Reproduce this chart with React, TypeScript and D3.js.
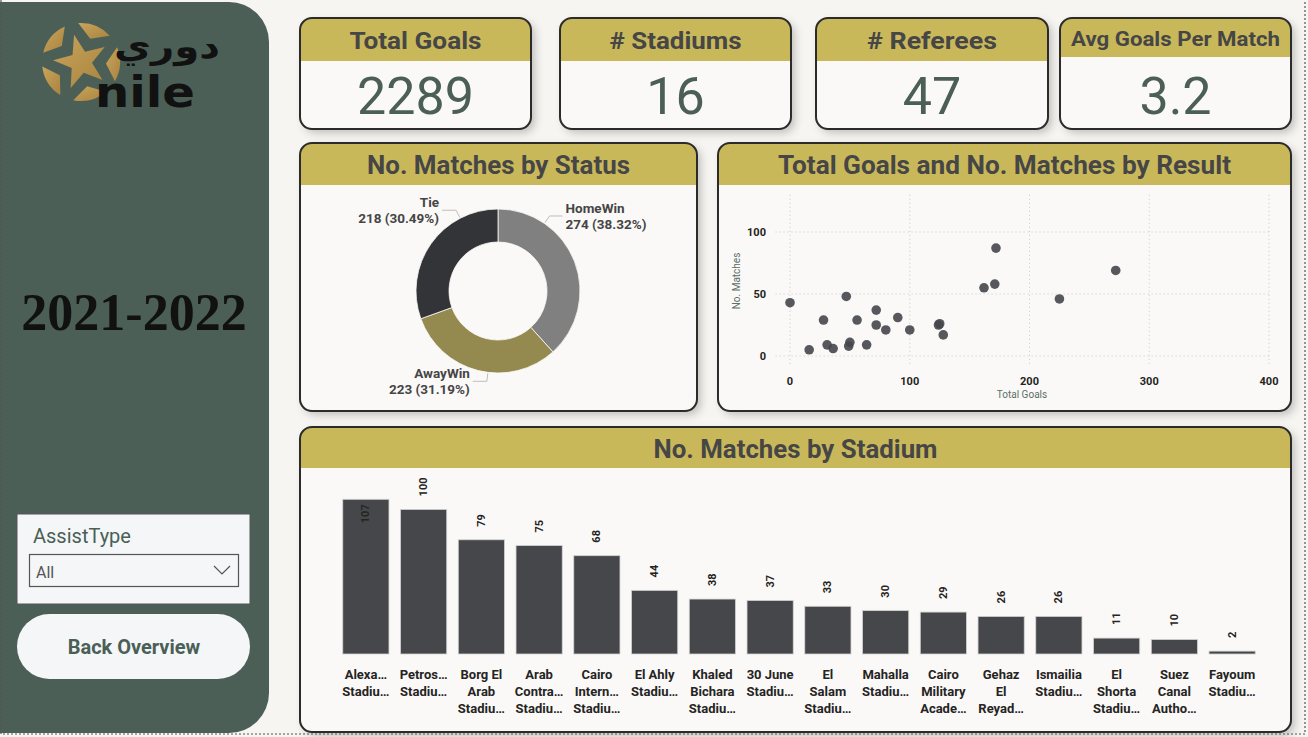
import React from 'react';
import * as d3 from 'd3';

// ─── Data ──────────────────────────────────────────────────

const kpiTitles = ['Total Goals', '# Stadiums', '# Referees', 'Avg Goals Per Match'];
const kpiValues = ['2289', '16', '47', '3.2'];

const statusNames = ['HomeWin', 'AwayWin', 'Tie'];
const statusCounts = [274, 223, 218];
const statusColors = ['#808080', '#948a50', '#333438'];

// one point per result (score line)
const resultGoals = [0, 16, 28, 31, 36, 47, 49, 50, 56, 64, 72, 72, 80, 90, 100, 124, 125, 128, 162, 171, 172, 225, 272];
const resultMatches = [43, 5, 29, 9, 6, 48, 8, 11, 29, 9, 37, 25, 21, 31, 21, 25, 26, 17, 55, 58, 87, 46, 69];
const goalTicks = [0, 100, 200, 300, 400];
const matchTicks = [0, 50, 100];

const stadiumLabels = [
  ['Alexa…', 'Stadiu…'],
  ['Petros…', 'Stadiu…'],
  ['Borg El', 'Arab', 'Stadiu…'],
  ['Arab', 'Contra…', 'Stadiu…'],
  ['Cairo', 'Intern…', 'Stadiu…'],
  ['El Ahly', 'Stadiu…'],
  ['Khaled', 'Bichara', 'Stadiu…'],
  ['30 June', 'Stadiu…'],
  ['El', 'Salam', 'Stadiu…'],
  ['Mahalla', 'Stadiu…'],
  ['Cairo', 'Military', 'Acade…'],
  ['Gehaz', 'El', 'Reyad…'],
  ['Ismailia', 'Stadiu…'],
  ['El', 'Shorta', 'Stadiu…'],
  ['Suez', 'Canal', 'Autho…'],
  ['Fayoum', 'Stadiu…'],
];
const stadiumMatches = [107, 100, 79, 75, 68, 44, 38, 37, 33, 30, 29, 26, 26, 11, 10, 2];

// ─── Style ──────────────────────────────────────────────────

const W = 1308;
const H = 737;
const PAGE = '#f7f5f1';
const GREEN = '#4b5f56';
const GOLD = '#c9b85a';
const CARD = '#faf9f7';
const TITLE = '#464646';
const FONT = 'Roboto, "Noto Sans", sans-serif';

// ─── Card ───────────────────────────────────────────────────

function Card({ x, y, w, h, hh, title, size, tw }: any) {
  const r = 12;
  const header = `M${x},${y + hh} V${y + r} A${r},${r} 0 0 1 ${x + r},${y} H${x + w - r} A${r},${r} 0 0 1 ${x + w},${y + r} V${y + hh} Z`;
  return (
    <g>
      <rect x={x} y={y} width={w} height={h} rx={r} fill={CARD} filter="url(#shadow)" />
      <path d={header} fill={GOLD} />
      <rect x={x} y={y} width={w} height={h} rx={r} fill="none" stroke="#2b2b2b" strokeWidth={2} />
      <text x={x + w / 2} y={y + hh / 2 + 1} textAnchor="middle" dominantBaseline="central"
        fontFamily={FONT} fontWeight={700} fontSize={size} fill={TITLE}
        textLength={tw} lengthAdjust="spacingAndGlyphs">{title}</text>
    </g>
  );
}

// ─── Logo ───────────────────────────────────────────────────

function Logo() {
  const cx = 81, cy = 62;
  const star = d3.range(10).map((i) => {
    const a = (i * Math.PI) / 5 - 0.25;
    const rr = i % 2 === 0 ? 28 : 11;
    return [cx + rr * Math.sin(a), cy - rr * Math.cos(a)];
  });
  const patches = d3.range(5).map((i) => {
    const a = ((i + 0.5) * 2 * Math.PI) / 5 - 0.25;
    const p = (ang: number, rr: number) => `${cx + rr * Math.sin(ang)},${cy - rr * Math.cos(ang)}`;
    return `M${p(a, 25)} L${p(a - 0.45, 39)} A39,39 0 0 1 ${p(a + 0.45, 39)} Z`;
  });
  return (
    <g>
      <defs>
        <linearGradient id="goldg" x1="0" y1="0" x2="1" y2="1">
          <stop offset="0%" stopColor="#c9a45c" />
          <stop offset="100%" stopColor="#a8843f" />
        </linearGradient>
      </defs>
      <polygon points={star.map((d) => d.join(',')).join(' ')} fill="url(#goldg)" />
      {patches.map((d, i) => <path key={i} d={d} fill="url(#goldg)" />)}
      <text x={114} y={58} fontFamily='"DejaVu Sans", sans-serif' fontWeight={700}
        fontSize={34} fill="#111" textLength={106} lengthAdjust="spacingAndGlyphs">دوري</text>
      <text x={95} y={107} fontFamily='"DejaVu Sans", sans-serif' fontWeight={700} fontSize={42}
        fill="#111" textLength={100} lengthAdjust="spacingAndGlyphs">nile</text>
    </g>
  );
}

// ─── Donut ──────────────────────────────────────────────────

function Donut() {
  const cx = 498, cy = 291, ro = 82, ri = 49;
  const total = d3.sum(statusCounts);
  const arcs = d3.pie<number>().sort(null)(statusCounts);
  const arc = d3.arc<d3.PieArcDatum<number>>().innerRadius(ri).outerRadius(ro);
  return (
    <g transform={`translate(${cx},${cy})`}>
      {arcs.map((a, i) => (
        <path key={i} d={arc(a) || ''} fill={statusColors[i]} stroke={CARD} strokeWidth={0.8} />
      ))}
      {arcs.map((a, i) => {
        const mid = (a.startAngle + a.endAngle) / 2;
        const target = mid < Math.PI / 2 ? 0 : mid > (3 * Math.PI) / 2 ? 2 * Math.PI : Math.PI;
        const ang = mid + (target - mid) * 0.5;
        const right = Math.sin(ang) > 0.05;
        const p1 = [(ro + 1) * Math.sin(ang), -(ro + 1) * Math.cos(ang)];
        const p2 = [(ro + 9) * Math.sin(ang), -(ro + 9) * Math.cos(ang)];
        const p3 = [p2[0] + (right ? 13 : -14), p2[1]];
        const tx = p3[0] + (right ? 3 : -3);
        const pct = ((statusCounts[i] / total) * 100).toFixed(2);
        return (
          <g key={'l' + i}>
            <polyline points={[p1, p2, p3].map((d) => d.join(',')).join(' ')} fill="none" stroke="#bdbdbd" strokeWidth={1} />
            <text x={tx} textAnchor={right ? 'start' : 'end'} fontFamily={FONT} fontWeight={700}
              fontSize={13.5} fill="#454545">
              <tspan x={tx} y={p2[1] - 8} dominantBaseline="central">{statusNames[i]}</tspan>
              <tspan x={tx} y={p2[1] + 8} dominantBaseline="central">{`${statusCounts[i]} (${pct}%)`}</tspan>
            </text>
          </g>
        );
      })}
    </g>
  );
}

// ─── Scatter ────────────────────────────────────────────────

function Scatter() {
  const x = d3.scaleLinear().domain([0, 400]).range([790, 1269]);
  const y = d3.scaleLinear().domain([0, 100]).range([356, 232]);
  return (
    <g>
      {goalTicks.map((t) => (
        <line key={'gx' + t} x1={x(t)} x2={x(t)} y1={y(130)} y2={y(-8)} stroke="#c8c8c8" strokeDasharray="1 3" />
      ))}
      {matchTicks.map((t) => (
        <line key={'gy' + t} x1={x(-12)} x2={x(400)} y1={y(t)} y2={y(t)} stroke="#c8c8c8" strokeDasharray="1 3" />
      ))}
      {goalTicks.map((t) => (
        <text key={'tx' + t} x={x(t)} y={381} textAnchor="middle" dominantBaseline="central"
          fontFamily={FONT} fontWeight={700} fontSize={11} fill="#252423">{t}</text>
      ))}
      {matchTicks.map((t) => (
        <text key={'ty' + t} x={766} y={y(t)} textAnchor="end" dominantBaseline="central"
          fontFamily={FONT} fontWeight={700} fontSize={11} fill="#252423">{t}</text>
      ))}
      <text x={1022} y={394} textAnchor="middle" dominantBaseline="central" fontFamily={FONT}
        fontSize={10} fill="#5b6f66">Total Goals</text>
      <text transform={`translate(736,281) rotate(-90)`} textAnchor="middle" dominantBaseline="central"
        fontFamily={FONT} fontSize={10} fill="#5b6f66">No. Matches</text>
      {resultGoals.map((g, i) => (
        <circle key={i} cx={x(g)} cy={y(resultMatches[i])} r={4.8} fill="#45464b" fillOpacity={0.9} />
      ))}
    </g>
  );
}

// ─── Bars ───────────────────────────────────────────────────

function Bars() {
  const x = d3.scaleBand<number>().domain(d3.range(stadiumMatches.length)).range([337, 1261])
    .paddingInner(0.2).paddingOuter(0.1);
  const y = d3.scaleLinear().domain([0, 120]).range([654, 480.5]);
  return (
    <g>
      {stadiumMatches.map((v, i) => {
        const bx = x(i) as number;
        const cx = bx + x.bandwidth() / 2;
        const top = y(v);
        const inside = top - 13 - 20 < 470;
        return (
          <g key={i}>
            <rect x={bx} y={top} width={x.bandwidth()} height={y(0) - top} fill="#46474b" stroke="#d2d2d2" strokeWidth={0.8} />
            <text transform={`translate(${cx},${inside ? top + 5 : top - 13}) rotate(-90)`}
              textAnchor={inside ? 'end' : 'start'} dominantBaseline="central" fontFamily={FONT}
              fontWeight={700} fontSize={11} fill="#252423">{v}</text>
            {stadiumLabels[i].map((l, j) => (
              <text key={j} x={cx} y={674 + j * 17} textAnchor="middle" dominantBaseline="central"
                fontFamily={FONT} fontWeight={700} fontSize={13} fill="#252423">{l}</text>
            ))}
          </g>
        );
      })}
    </g>
  );
}

// ─── App ────────────────────────────────────────────────────

export default function App() {
  const kpiX = [300, 560, 816, 1060];
  const kpiW = [231, 231, 232, 231];
  const kpiHH = [43, 43, 43, 39];
  const kpiSize = [24, 24, 24, 21];
  const kpiTW = [132, 132, 130, 209];

  return (
    <div style={{ position: 'fixed', left: 0, top: 0 }}>
      <svg width={W} height={H} style={{ display: 'block' }}>
        <defs>
          <filter id="shadow" x="-10%" y="-10%" width="125%" height="130%">
            <feDropShadow dx={4} dy={4} stdDeviation={4} floodColor="#000" floodOpacity={0.22} />
          </filter>
        </defs>
        <rect width={W} height={H} fill={PAGE} />

        {/* left panel */}
        <path d="M0,2 H229 A40,40 0 0 1 269,42 V693 A40,40 0 0 1 229,733 H0 Z" fill={GREEN} />
        <Logo />
        <text x={134} y={330} textAnchor="middle" fontFamily='"Liberation Serif", "Times New Roman", serif'
          fontWeight={700} fontSize={52} fill="#111">2021-2022</text>

        <rect x={17} y={514} width={233} height={90} fill="#f4f6f8" stroke="#555" strokeWidth={1} />
        <text x={33} y={543} fontFamily={FONT} fontSize={20} fill={GREEN}>AssistType</text>
        <rect x={29.5} y={554.5} width={209} height={32} fill="none" stroke="#555" strokeWidth={1.2} />
        <text x={36} y={578} fontFamily={FONT} fontSize={16} fill="#555">All</text>
        <polyline points="214,566 222,574 230,566" fill="none" stroke="#555" strokeWidth={1.2} />

        <rect x={17} y={614} width={233} height={65} rx={32.5} fill="#f4f6f8" />
        <text x={134} y={647} textAnchor="middle" dominantBaseline="central" fontFamily={FONT}
          fontWeight={700} fontSize={20} fill={GREEN}>Back Overview</text>

        {/* KPI cards */}
        {kpiTitles.map((t, i) => (
          <g key={t}>
            <Card x={kpiX[i]} y={18} w={kpiW[i]} h={111} hh={kpiHH[i]} title={t} size={kpiSize[i]} tw={kpiTW[i]} />
            <text x={kpiX[i] + kpiW[i] / 2} y={114} textAnchor="middle" fontFamily={FONT}
              fontSize={52} fill={GREEN}>{kpiValues[i]}</text>
          </g>
        ))}

        <Card x={300} y={143} w={397} h={268} hh={42} title="No. Matches by Status" size={26} tw={263} />
        <Donut />

        <Card x={718} y={143} w={573} h={268} hh={42} title="Total Goals and No. Matches by Result" size={26} tw={453} />
        <Scatter />

        <Card x={300} y={427} w={991} h={305} hh={41} title="No. Matches by Stadium" size={26} tw={284} />
        <Bars />

        {/* selection outline */}
        <path d="M1,0 V734 H1305 V0" fill="none" stroke="#555" strokeWidth={1.2} strokeDasharray="2 2" />
      </svg>
    </div>
  );
}
